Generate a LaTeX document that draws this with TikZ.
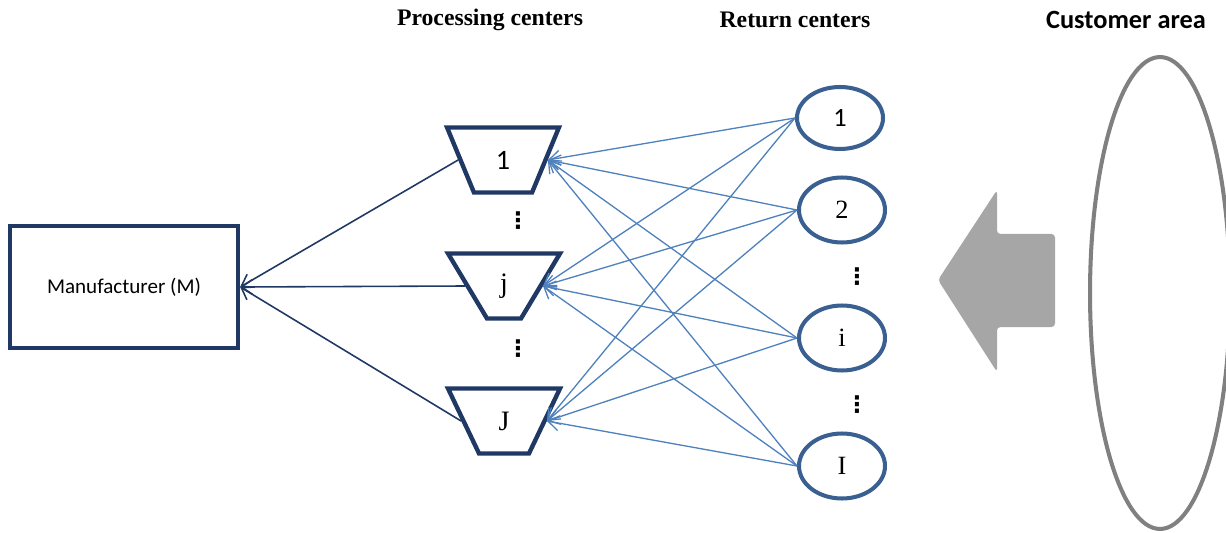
\documentclass[tikz,border=0pt]{standalone}
\usepackage{fontspec}
\setmainfont{Liberation Serif}
\newfontfamily\calfont{Carlito}
\newfontfamily\dejavu{DejaVu Sans}
\usetikzlibrary{shapes.geometric,arrows.meta}
\definecolor{navy}{HTML}{1F3864}
\definecolor{ellblue}{HTML}{3A5F91}
\definecolor{linkblue}{HTML}{4F81BD}
\definecolor{arrgray}{HTML}{A6A6A6}
\definecolor{custgray}{HTML}{808080}
\tikzset{
  trap/.style={draw=navy, line width=2.5pt, trapezium, shape border rotate=180,
    trapezium angle=70, trapezium stretches=true, minimum width=2.24cm, minimum height=1.3cm,
    inner sep=0pt, font=\fontsize{16}{16}\selectfont},
  rc/.style={draw=ellblue, line width=2.3pt, ellipse, minimum width=1.72cm, minimum height=1.3cm,
    inner sep=0pt, font=\fontsize{15}{15}\selectfont},
  mbox/.style={draw=navy, line width=2.5pt, minimum width=4.56cm, minimum height=2.44cm,
    inner sep=0pt, font=\calfont\fontsize{12}{12}\selectfont},
  toM/.style={draw=navy, line width=0.9pt, -{Straight Barb[length=2.2mm,width=3mm]}},
  link/.style={draw=linkblue, line width=0.75pt, -{Straight Barb[length=2.2mm,width=3mm]}},
  hdr/.style={font=\bfseries\fontsize{13.5}{13.5}\selectfont},
  dotsn/.style={font=\dejavu\bfseries\fontsize{13}{13}\selectfont, inner sep=0pt},
}
\begin{document}
\begin{tikzpicture}[x=0.02cm,y=-0.02cm]
\useasboundingbox (0,0) rectangle (1226,533);
% headers
\node[hdr] (h1) at (490,20) {Processing centers};
\node[hdr] (h2) at (795,20) {Return centers};
\node[font=\calfont\bfseries\fontsize{15}{15}\selectfont] (h3) at (1126,20) {Customer area};
% manufacturer
\node[mbox] (M) at (124,287) {Manufacturer (M)};
% processing centers
\node[trap] (t1) at (503,160) {\calfont 1};
\node[trap] (tj) at (504,286) {j};
\node[trap] (tJ) at (504,421) {J};
\node[dotsn] (d1) at (518,221) {⋮};
\node[dotsn] (d2) at (518,349) {⋮};
% return centers
\node[rc, minimum height=1.24cm] (r1) at (840,118) {\calfont 1};
\node[rc] (r2) at (842,210) {2};
\node[rc] (ri) at (842,338) {i};
\node[rc] (rI) at (842,466) {I};
\node[dotsn] (d3) at (857,277) {⋮};
\node[dotsn] (d4) at (857,405) {⋮};
% links to manufacturer
\draw[toM] (t1.west) -- (M.east);
\draw[toM] (tj.west) -- (M.east);
\draw[toM] (tJ.west) -- (M.east);
% links return -> processing
\foreach \r in {r1,r2,ri,rI}{
  \foreach \t in {t1,tj,tJ}{
    \draw[link] (\r.west) -- (\t.east);
  }
}
% big arrow
\fill[arrgray, rounded corners=2pt] (938,280) -- (997,190) -- (997,234) -- (1055,234) -- (1055,327) -- (997,327) -- (997,372) -- cycle;
% customer area
\node[draw=custgray, line width=2.3pt, ellipse, minimum width=2.8cm, minimum height=9.44cm, inner sep=0pt] (cust) at (1160,293) {};
\end{tikzpicture}
\end{document}
